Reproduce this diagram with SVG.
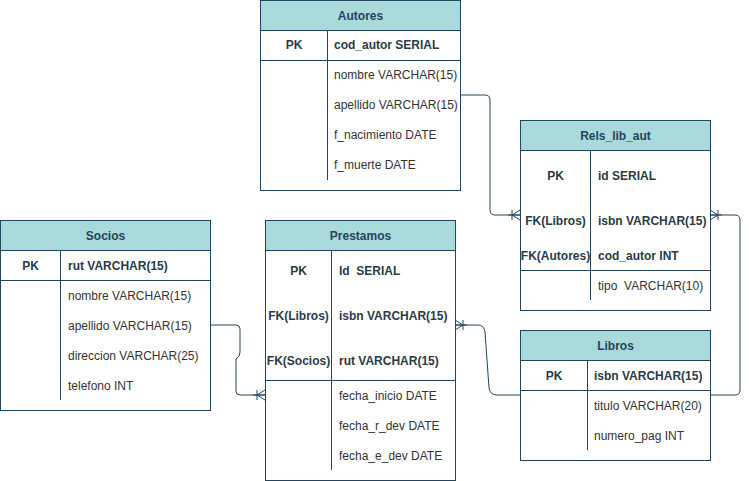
<svg xmlns="http://www.w3.org/2000/svg" width="749" height="481" viewBox="0 0 749 481">
  <style>
    .box { fill: #ffffff; stroke: #23445d; stroke-width: 1; }
    .head { fill: #a8dadb; stroke: #23445d; stroke-width: 1; }
    .sep { stroke: #23445d; stroke-width: 1; fill: none; }
    .title { font-family: "Liberation Sans", Arial, sans-serif; font-size: 12px; font-weight: bold; fill: #23445d; text-anchor: middle; }
    .key { font-family: "Liberation Sans", Arial, sans-serif; font-size: 12px; font-weight: bold; fill: #2a3b47; white-space: pre; }
    .keyc { font-family: "Liberation Sans", Arial, sans-serif; font-size: 12px; font-weight: bold; fill: #2a3b47; text-anchor: middle; }
    .col { font-family: "Liberation Sans", Arial, sans-serif; font-size: 12px; fill: #333333; white-space: pre; }
    .link { fill: none; stroke: #23445d; stroke-width: 1; }
  </style>
  <defs>
    <!-- crow's foot with a bar: tip points at the entity -->
    <marker id="many" viewBox="0 0 12 12" refX="12" refY="6" markerWidth="12" markerHeight="12" markerUnits="userSpaceOnUse" orient="auto">
      <path d="M12,1 L4,6 L12,11 M12,6 H0 M4,1 V11" fill="none" stroke="#23445d" stroke-width="1"/>
    </marker>
  </defs>

  <rect width="749" height="481" fill="#ffffff"/>

  <!-- relationships -->
  <g id="connectors">
    <path class="link" d="M461,95 H485 Q490,95 490,100 V210 Q490,215 495,215 H520" marker-end="url(#many)"/>
    <path class="link" d="M710,395 H735 Q740,395 740,390 V220 Q740,215 735,215 H710" marker-end="url(#many)"/>
    <path class="link" d="M520,395 H497 Q490,395 489,388 L485,332 Q484,325 478,325 H455" marker-end="url(#many)"/>
    <path class="link" d="M210,325 H236 Q240,325 240,329 V352 Q240,357 236,359 V391 Q236,395 240,395 H265" marker-end="url(#many)"/>
  </g>

  <!-- Autores -->
  <g id="autores">
    <rect class="box" x="260.5" y="0.5" width="200" height="190"/>
    <rect class="head" x="260.5" y="0.5" width="200" height="30"/>
    <text class="title" x="360.5" y="20">Autores</text>
    <line class="sep" x1="260.5" y1="60.5" x2="460.5" y2="60.5"/>
    <line class="sep" x1="327.5" y1="30.5" x2="327.5" y2="180"/>
    <text class="keyc" x="294" y="49">PK</text>
    <text class="key" x="334" y="49">cod_autor SERIAL</text>
    <text class="col" x="334" y="79">nombre VARCHAR(15)</text>
    <text class="col" x="334" y="109">apellido VARCHAR(15)</text>
    <text class="col" x="334" y="139">f_nacimiento DATE</text>
    <text class="col" x="334" y="169">f_muerte DATE</text>
  </g>

  <!-- Rels_lib_aut -->
  <g id="rels_lib_aut">
    <rect class="box" x="520.5" y="120.5" width="190" height="190"/>
    <rect class="head" x="520.5" y="120.5" width="190" height="30"/>
    <text class="title" x="615.5" y="140">Rels_lib_aut</text>
    <line class="sep" x1="520.5" y1="270.5" x2="710.5" y2="270.5"/>
    <line class="sep" x1="590.5" y1="150.5" x2="590.5" y2="300"/>
    <text class="keyc" x="555.5" y="180">PK</text>
    <text class="key" x="598" y="180">id SERIAL</text>
    <text class="keyc" x="555.5" y="225">FK(Libros)</text>
    <text class="key" x="598" y="225">isbn VARCHAR(15)</text>
    <text class="keyc" x="555.5" y="260">FK(Autores)</text>
    <text class="key" x="598" y="260">cod_autor INT</text>
    <text class="col" x="598" y="290">tipo  VARCHAR(10)</text>
  </g>

  <!-- Socios -->
  <g id="socios">
    <rect class="box" x="0.5" y="220.5" width="210" height="190"/>
    <rect class="head" x="0.5" y="220.5" width="210" height="30"/>
    <text class="title" x="105.5" y="240">Socios</text>
    <line class="sep" x1="0.5" y1="280.5" x2="210.5" y2="280.5"/>
    <line class="sep" x1="60.5" y1="250.5" x2="60.5" y2="400"/>
    <text class="keyc" x="30.5" y="270">PK</text>
    <text class="key" x="68" y="270">rut VARCHAR(15)</text>
    <text class="col" x="68" y="300">nombre VARCHAR(15)</text>
    <text class="col" x="68" y="330">apellido VARCHAR(15)</text>
    <text class="col" x="68" y="360">direccion VARCHAR(25)</text>
    <text class="col" x="68" y="390">telefono INT</text>
  </g>

  <!-- Prestamos -->
  <g id="prestamos">
    <rect class="box" x="265.5" y="220.5" width="190" height="260"/>
    <rect class="head" x="265.5" y="220.5" width="190" height="30"/>
    <text class="title" x="360.5" y="240">Prestamos</text>
    <line class="sep" x1="265.5" y1="380.5" x2="455.5" y2="380.5"/>
    <line class="sep" x1="331.5" y1="250.5" x2="331.5" y2="470"/>
    <text class="keyc" x="298.5" y="275">PK</text>
    <text class="key" x="339" y="275">Id  SERIAL</text>
    <text class="keyc" x="298.5" y="320">FK(Libros)</text>
    <text class="key" x="339" y="320">isbn VARCHAR(15)</text>
    <text class="keyc" x="298.5" y="365">FK(Socios)</text>
    <text class="key" x="339" y="365">rut VARCHAR(15)</text>
    <text class="col" x="339" y="400">fecha_inicio DATE</text>
    <text class="col" x="339" y="430">fecha_r_dev DATE</text>
    <text class="col" x="339" y="460">fecha_e_dev DATE</text>
  </g>

  <!-- Libros -->
  <g id="libros">
    <rect class="box" x="520.5" y="330.5" width="190" height="130"/>
    <rect class="head" x="520.5" y="330.5" width="190" height="30"/>
    <text class="title" x="615.5" y="350">Libros</text>
    <line class="sep" x1="520.5" y1="390.5" x2="710.5" y2="390.5"/>
    <line class="sep" x1="587.5" y1="360.5" x2="587.5" y2="450"/>
    <text class="keyc" x="554" y="380">PK</text>
    <text class="key" x="594" y="380">isbn VARCHAR(15)</text>
    <text class="col" x="594" y="410">titulo VARCHAR(20)</text>
    <text class="col" x="594" y="440">numero_pag INT</text>
  </g>
</svg>
